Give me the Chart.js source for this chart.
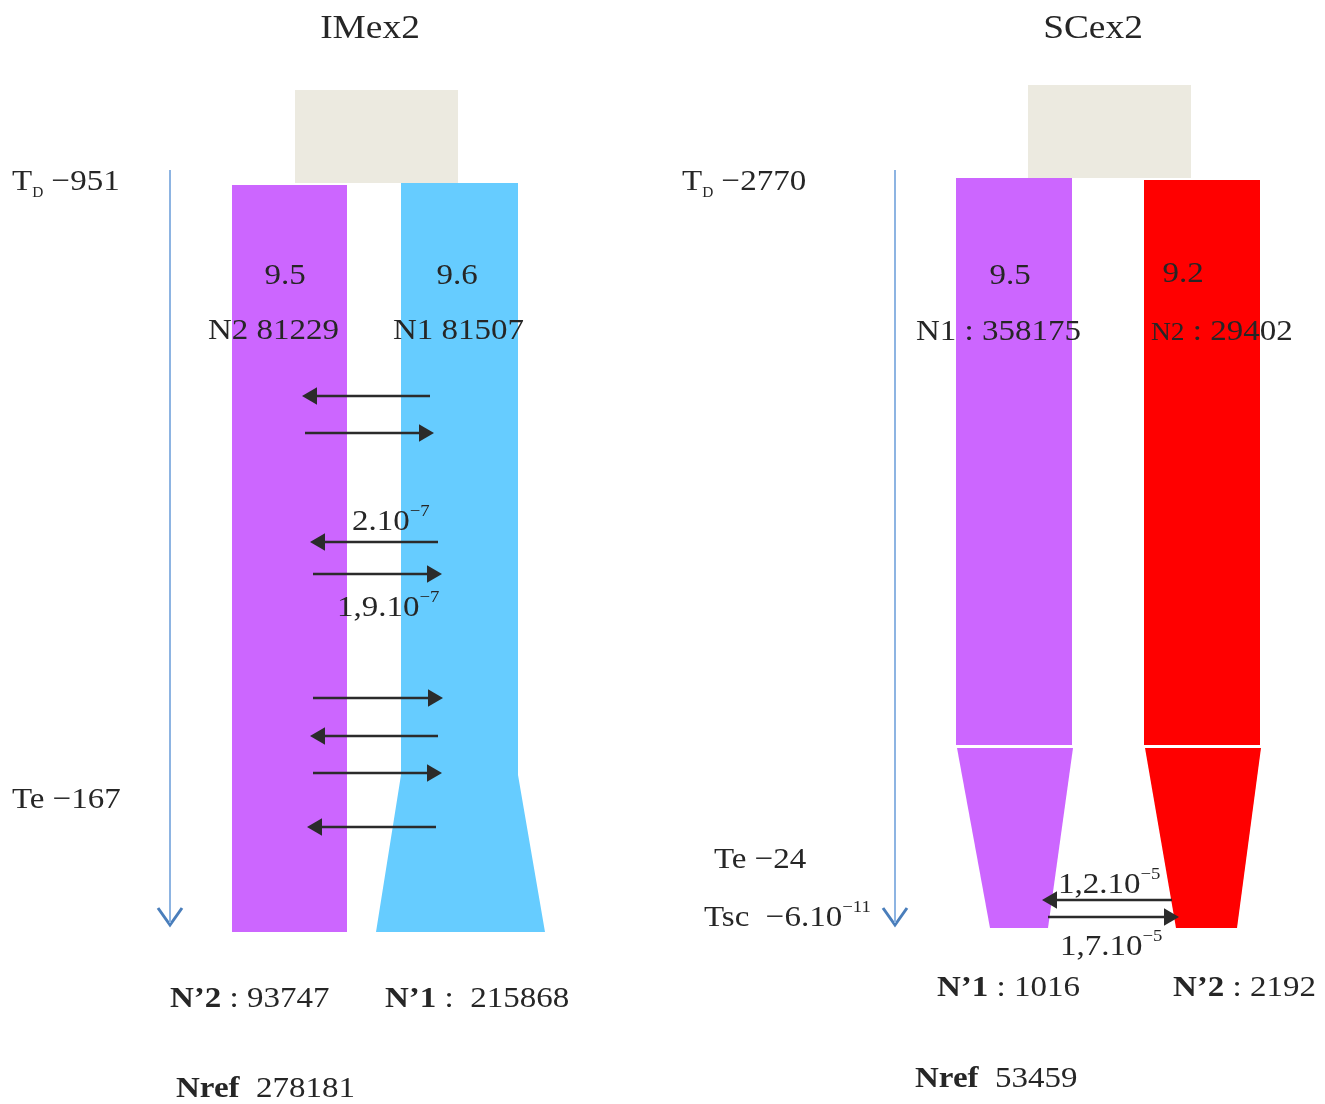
<!DOCTYPE html>
<html>
<head>
<meta charset="utf-8">
<script src="https://cdn.jsdelivr.net/npm/chart.js@4.4.1/dist/chart.umd.min.js"></script>
<style>
  html, body { margin: 0; padding: 0; background: #fff; }
  #wrap { width: 1325px; height: 1104px; }
</style>
</head>
<body>
<div id="wrap"><canvas id="modelChart" width="1325" height="1104"></canvas></div>
<script>
// ===== Datos del modelo =====
const panelTitles = ['IMex2', 'SCex2'];
const divergenceTimes = [-951, -2770];      // T_D
const endTimes = [-167, -24];               // Te
const growthRates = [[9.5, 9.6], [9.5, 9.2]];
const ancestralSizes = [[81229, 81507], [358175, 29402]];
const currentSizes = [[93747, 215868], [1016, 2192]];
const nrefValues = [278181, 53459];
const imexRates = [['2', -7], ['1,9', -7]];
const scexRates = [['1,2', -5], ['1,7', -5]];
const tscRate = ['6', -11];

// formas (coordenadas del diagrama)
const imexAncestral = [[295, 183], [295, 90], [458, 90], [458, 183]];
const imexPop2 = [[232, 932], [232, 185], [347, 185], [347, 932]];
const imexPop1 = [[376, 932], [401, 775], [401, 183], [518, 183], [518, 775], [545, 932]];
const scexAncestral = [[1028, 178], [1028, 85], [1191, 85], [1191, 178]];
const scexPop1Top = [[956, 745], [956, 178], [1072, 178], [1072, 745]];
const scexPop1Bottom = [[957, 748], [990, 928], [1048, 928], [1073, 748]];
const scexPop2Top = [[1144, 745], [1144, 180], [1260, 180], [1260, 745]];
const scexPop2Bottom = [[1145, 748], [1176, 928], [1237, 928], [1261, 748]];

// flechas de migración: y, cola, punta
const imexArrowY = [396, 433, 542, 574, 698, 736, 773, 827];
const imexArrowTail = [430, 305, 438, 313, 313, 438, 313, 436];
const imexArrowHead = [303, 433, 311, 441, 442, 311, 441, 308];
const scexArrowY = [900, 917];
const scexArrowTail = [1172, 1048];
const scexArrowHead = [1043, 1178];

// ejes de tiempo
const timeAxisX = [170, 895];
const timeAxisTop = 170;
const timeAxisBottom = 925;

// ===== Colores =====
const colPurple = '#CC66FF';
const colBlue = '#66CCFF';
const colRed = '#FF0000';
const colBeige = '#ECEAE0';
const colArrow = '#2b2b2b';
const colText = '#262626';

const minus = v => (v < 0 ? '\u2212' + Math.abs(v) : String(v));
const supExp = e => minus(e);

function shapeDataset(pts, color) {
    return {
        data: pts.map(([x, y]) => ({ x, y })),
        showLine: true,
        fill: 'shape',
        backgroundColor: color,
        borderColor: 'transparent',
        borderWidth: 0,
        pointRadius: 0,
        tension: 0,
        order: 10
    };
}

function arrowDataset(y, tail, head) {
    const dir = Math.sign(head - tail);
    return {
        data: [{ x: tail, y }, { x: head - dir * 9, y }],
        showLine: true,
        fill: false,
        borderColor: colArrow,
        borderWidth: 2.5,
        pointRadius: [0, 10],
        pointStyle: 'triangle',
        pointRotation: [0, dir > 0 ? 90 : -90],
        pointBackgroundColor: colArrow,
        pointBorderColor: colArrow,
        pointBorderWidth: 0,
        order: 1
    };
}

function timeAxisDatasets(x) {
    return [{
        data: [{ x, y: timeAxisTop }, { x, y: timeAxisBottom - 2 }],
        showLine: true, fill: false,
        borderColor: '#8DB4E2', borderWidth: 2, pointRadius: 0, order: 2
    }, {
        data: [{ x: x - 12, y: timeAxisBottom - 17 }, { x, y: timeAxisBottom }, { x: x + 12, y: timeAxisBottom - 17 }],
        showLine: true, fill: false,
        borderColor: '#4A7EBB', borderWidth: 3, pointRadius: 0, order: 2
    }];
}

const datasets = [
    shapeDataset(imexAncestral, colBeige),
    shapeDataset(imexPop2, colPurple),
    shapeDataset(imexPop1, colBlue),
    shapeDataset(scexAncestral, colBeige),
    shapeDataset(scexPop1Top, colPurple),
    shapeDataset(scexPop1Bottom, colPurple),
    shapeDataset(scexPop2Top, colRed),
    shapeDataset(scexPop2Bottom, colRed),
    ...imexArrowY.map((y, i) => arrowDataset(y, imexArrowTail[i], imexArrowHead[i])),
    ...scexArrowY.map((y, i) => arrowDataset(y, scexArrowTail[i], scexArrowHead[i])),
    ...timeAxisDatasets(timeAxisX[0]),
    ...timeAxisDatasets(timeAxisX[1])
];

// ===== Textos =====
const labels = [
    { x: 370, y: 38, align: 'center', size: 34, runs: [{ t: panelTitles[0] }] },
    { x: 1093, y: 38, align: 'center', size: 34, runs: [{ t: panelTitles[1] }] },

    { x: 12, y: 190, runs: [{ t: 'T' }, { t: 'D', size: 14, dy: 7 }, { t: ' ' + minus(divergenceTimes[0]) }] },
    { x: 285, y: 284, align: 'center', runs: [{ t: String(growthRates[0][0]) }] },
    { x: 457, y: 284, align: 'center', runs: [{ t: String(growthRates[0][1]) }] },
    { x: 208, y: 339, runs: [{ t: 'N2 ' + ancestralSizes[0][0] }] },
    { x: 393, y: 339, runs: [{ t: 'N1 ' + ancestralSizes[0][1] }] },
    { x: 352, y: 530, runs: [{ t: imexRates[0][0] + '.10' }, { t: supExp(imexRates[0][1]), size: 17, dy: -14 }] },
    { x: 337, y: 616, runs: [{ t: imexRates[1][0] + '.10' }, { t: supExp(imexRates[1][1]), size: 17, dy: -14 }] },
    { x: 12, y: 808, runs: [{ t: 'Te ' + minus(endTimes[0]) }] },
    { x: 170, y: 1007, runs: [{ t: 'N\u20192', bold: true }, { t: ' : ' + currentSizes[0][0] }] },
    { x: 385, y: 1007, runs: [{ t: 'N\u20191', bold: true }, { t: ' :  ' + currentSizes[0][1] }] },
    { x: 176, y: 1097, runs: [{ t: 'Nref', bold: true }, { t: '  ' + nrefValues[0] }] },

    { x: 682, y: 190, runs: [{ t: 'T' }, { t: 'D', size: 14, dy: 7 }, { t: ' ' + minus(divergenceTimes[1]) }] },
    { x: 1010, y: 284, align: 'center', runs: [{ t: String(growthRates[1][0]) }] },
    { x: 1183, y: 282, align: 'center', runs: [{ t: String(growthRates[1][1]) }] },
    { x: 916, y: 340, runs: [{ t: 'N1 : ' + ancestralSizes[1][0] }] },
    { x: 1151, y: 340, runs: [{ t: 'N2', size: 25 }, { t: ' : ' + ancestralSizes[1][1] }] },
    { x: 714, y: 868, runs: [{ t: 'Te ' + minus(endTimes[1]) }] },
    { x: 704, y: 926, runs: [{ t: 'Tsc  \u2212' + tscRate[0] + '.10' }, { t: supExp(tscRate[1]), size: 17, dy: -14 }] },
    { x: 1058, y: 893, runs: [{ t: scexRates[0][0] + '.10' }, { t: supExp(scexRates[0][1]), size: 17, dy: -14 }] },
    { x: 1060, y: 955, runs: [{ t: scexRates[1][0] + '.10' }, { t: supExp(scexRates[1][1]), size: 17, dy: -14 }] },
    { x: 937, y: 996, runs: [{ t: 'N\u20191', bold: true }, { t: ' : ' + currentSizes[1][0] }] },
    { x: 1173, y: 996, runs: [{ t: 'N\u20192', bold: true }, { t: ' : ' + currentSizes[1][1] }] },
    { x: 915, y: 1087, runs: [{ t: 'Nref', bold: true }, { t: '  ' + nrefValues[1] }] }
];

const FONT = '"Liberation Serif", "Times New Roman", serif';
const STRETCH = 1.1;

const diagramText = {
    id: 'diagramText',
    afterDatasetsDraw(chart) {
        const { ctx } = chart;
        const sx = chart.scales.x, sy = chart.scales.y;
        const fontOf = (r, base) => `${r.bold ? 'bold ' : ''}${r.size || base}px ${FONT}`;
        labels.forEach(lab => {
            const base = lab.size || 30;
            ctx.save();
            ctx.fillStyle = colText;
            ctx.textBaseline = 'alphabetic';
            ctx.textAlign = 'left';
            let total = 0;
            lab.runs.forEach(r => { ctx.font = fontOf(r, base); total += ctx.measureText(r.t).width; });
            ctx.translate(sx.getPixelForValue(lab.x), sy.getPixelForValue(lab.y));
            ctx.scale(STRETCH, 1);
            let cx = lab.align === 'center' ? -total / 2 : 0;
            lab.runs.forEach(r => {
                ctx.font = fontOf(r, base);
                ctx.fillText(r.t, cx, r.dy || 0);
                cx += ctx.measureText(r.t).width;
            });
            ctx.restore();
        });
    }
};

new Chart(document.getElementById('modelChart').getContext('2d'), {
    type: 'scatter',
    data: { datasets },
    options: {
        responsive: false,
        devicePixelRatio: 1,
        animation: false,
        events: [],
        layout: { padding: 0, autoPadding: false },
        plugins: {
            legend: { display: false },
            tooltip: { enabled: false }
        },
        scales: {
            x: { type: 'linear', min: 0, max: 1325, display: false },
            y: { type: 'linear', min: 0, max: 1104, reverse: true, display: false }
        }
    },
    plugins: [diagramText]
});
</script>
</body>
</html>
